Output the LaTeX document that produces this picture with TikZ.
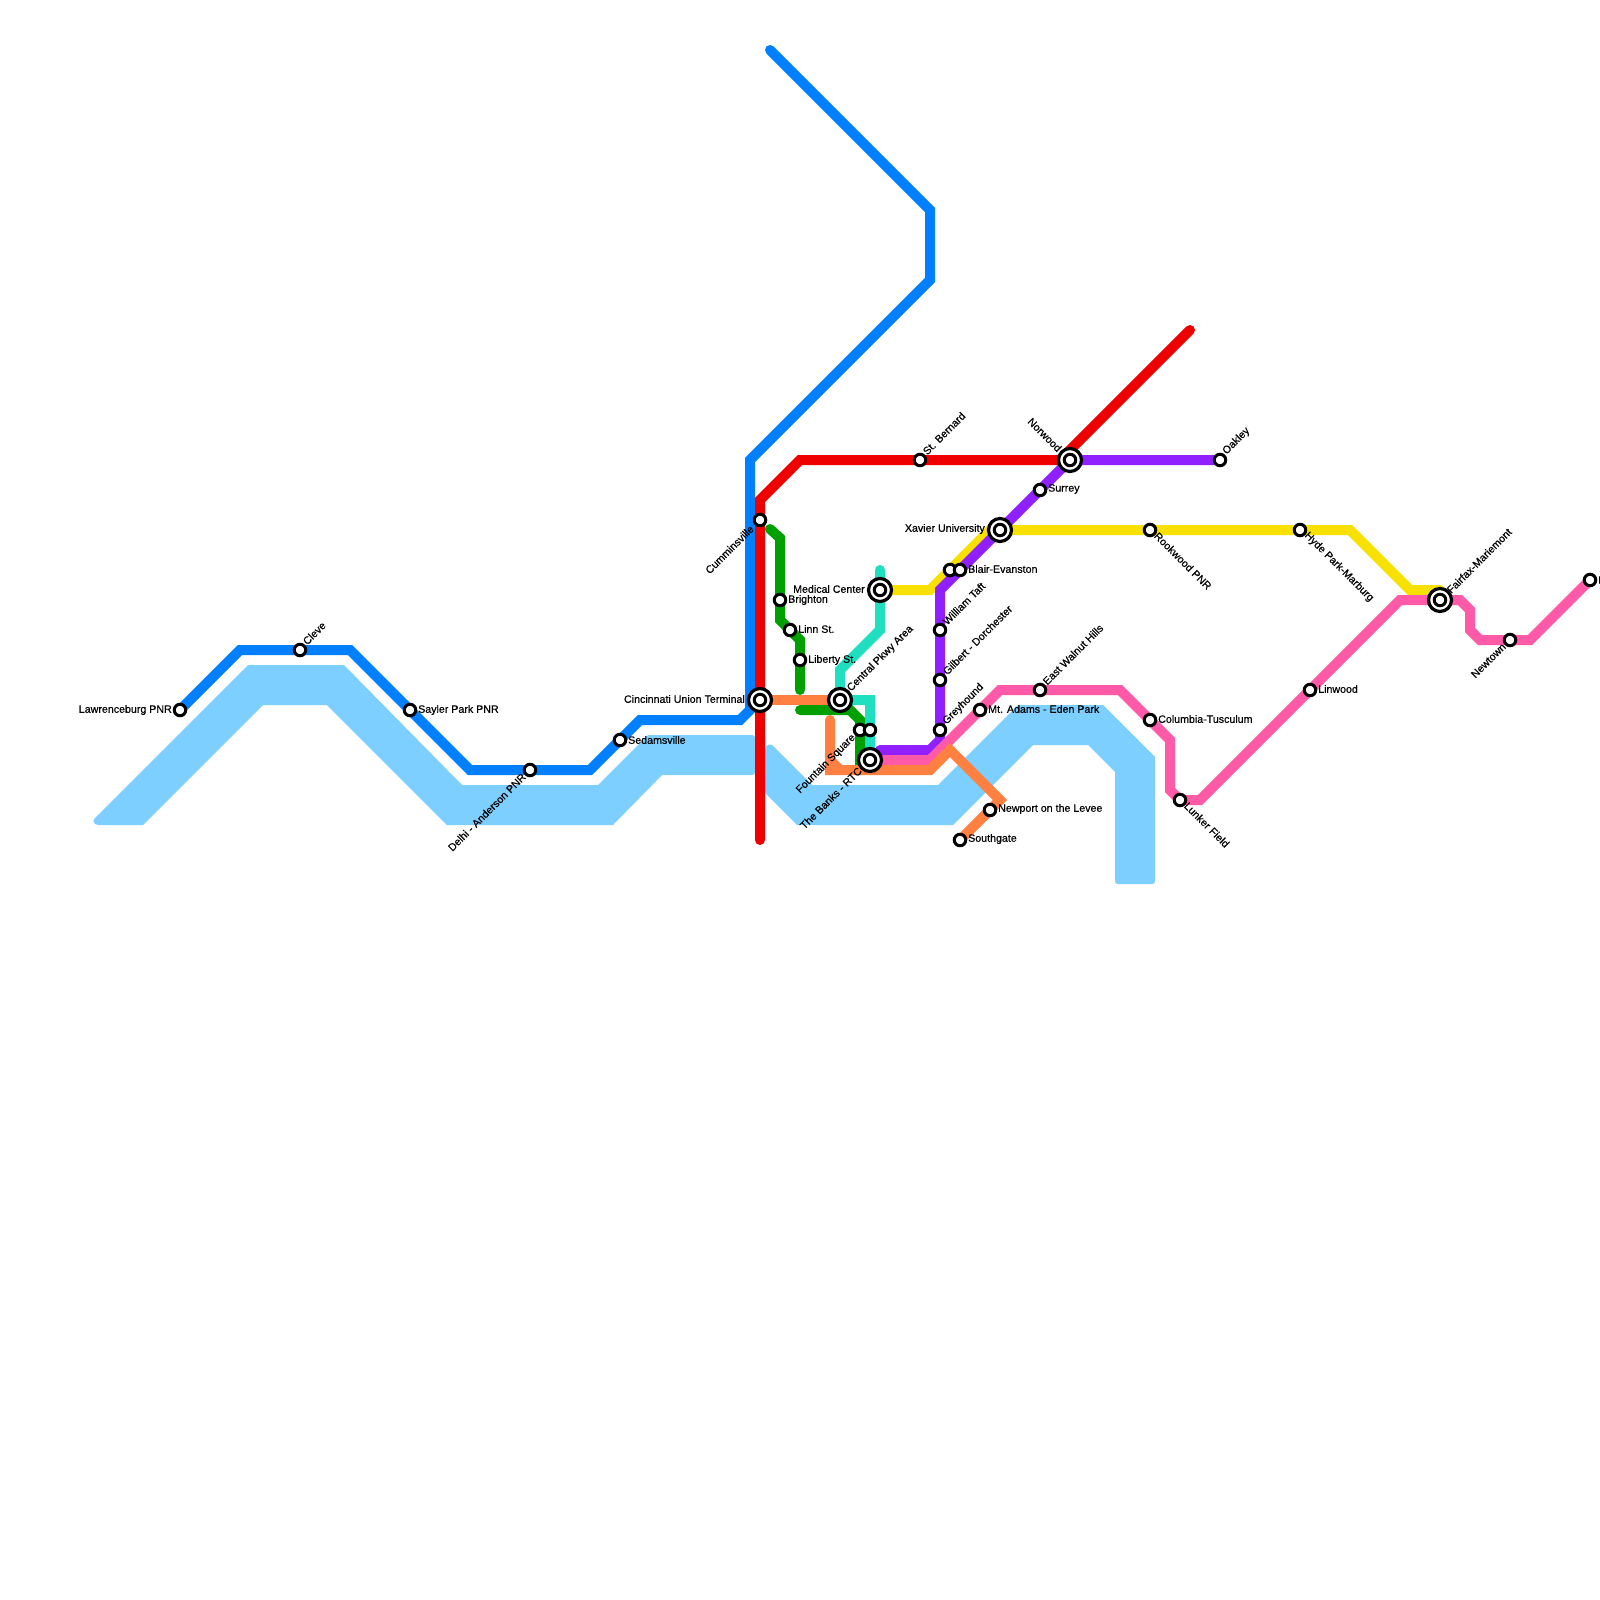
\documentclass[tikz,border=0pt]{standalone}
\usepackage{fontspec}
\setmainfont{Liberation Sans}
\newfontfamily\lblfont[FakeBold=0.5]{Liberation Sans}
\definecolor{cRiver}{HTML}{7DCFFF}
\definecolor{cBlue}{HTML}{0080FF}
\definecolor{cRed}{HTML}{EE0000}
\definecolor{cOrange}{HTML}{FF8040}
\definecolor{cGreen}{HTML}{00A000}
\definecolor{cTeal}{HTML}{20DFC0}
\definecolor{cYellow}{HTML}{F8E000}
\definecolor{cPurple}{HTML}{9020FF}
\definecolor{cPink}{HTML}{FF5AA8}
\tikzset{
  metro/.style={line width=10pt,line cap=round,line join=miter,miter limit=4},
  riverfill/.style={fill=cRiver,draw=none},
  stn/.style={circle,draw=black,fill=white,line width=3pt,minimum size=11.5pt,inner sep=0pt},
  ring/.style={circle,draw=black,fill=white,line width=3.2pt,minimum size=23pt,inner sep=0pt},
  lbl/.style={inner sep=0pt,font=\lblfont\fontsize{10.65}{12}\selectfont,text=black},
  lblR/.style={lbl,anchor=west},
  lblL/.style={lbl,anchor=east},
  lblUR/.style={lbl,anchor=west,rotate=45},
  lblDR/.style={lbl,anchor=west,rotate=-45},
  lblDL/.style={lbl,anchor=east,rotate=45},
  lblUL/.style={lbl,anchor=east,rotate=-45},
}
\begin{document}
\begin{tikzpicture}[x=1pt,y=-1pt]
\useasboundingbox (0,0) rectangle (1600,1600);
% station positions
\coordinate (Law) at (180,710);
\coordinate (Cle) at (300,650);
\coordinate (Say) at (410,710);
\coordinate (Del) at (530,770);
\coordinate (Sed) at (620,740);
\coordinate (Cin) at (760,700);
\coordinate (Cum) at (760,520);
\coordinate (Bri) at (780,600);
\coordinate (Lin) at (790,630);
\coordinate (Lib) at (800,660);
\coordinate (Cen) at (840,700);
\coordinate (Fou) at (860,730);
\coordinate (Fou2) at (870,730);
\coordinate (Ban) at (870,760);
\coordinate (Med) at (880,590);
\coordinate (Ber) at (920,460);
\coordinate (Taf) at (940,630);
\coordinate (Gil) at (940,680);
\coordinate (Gre) at (940,730);
\coordinate (Bl1) at (950,570);
\coordinate (Bl2) at (960,570);
\coordinate (Xav) at (1000,530);
\coordinate (Sur) at (1040,490);
\coordinate (Nor) at (1070,460);
\coordinate (Oak) at (1220,460);
\coordinate (Ada) at (980,710);
\coordinate (Eas) at (1040,690);
\coordinate (New) at (990,810);
\coordinate (Sou) at (960,840);
\coordinate (Col) at (1150,720);
\coordinate (Lun) at (1180,800);
\coordinate (Roo) at (1150,530);
\coordinate (Hyd) at (1300,530);
\coordinate (Lwd) at (1310,690);
\coordinate (Fai) at (1440,600);
\coordinate (Nwt) at (1510,640);
\coordinate (Mad) at (1590,580);
% free line ends
\coordinate (blueEnd) at (770,50);
\coordinate (redEnd) at (1190,330);
\coordinate (redStart) at (760,840);
\coordinate (tealTop) at (880,570);
\coordinate (greenTop) at (770,529);
\coordinate (greenMid) at (800,690);
\coordinate (greenLow) at (800,710);
\coordinate (orangeTop) at (830,720);
\coordinate (yellowEnd) at (1440,590);
% river
\path[riverfill] (248,665) -- (344,665) -- (462,785) -- (598,785) -- (648,735)
  -- (752,735) .. controls (754,735) and (755,736) .. (755,738) -- (755,772) .. controls (755,774) and (754,775) .. (752,775)
  -- (662,775) -- (613,825) -- (447,825)
  -- (327,705) -- (263,705) -- (143,825) -- (99,825) .. controls (94,825) and (92,821) .. (95,818) -- cycle;
\path[riverfill] (812,785) -- (938,785) -- (1018,705) -- (1103,705) -- (1155,757)
  -- (1155,881) .. controls (1155,883) and (1154,884) .. (1152,884) -- (1118,884) .. controls (1116,884) and (1115,883) .. (1115,881)
  -- (1115,772) -- (1088,745)
  -- (1033,745) -- (953,825) -- (797,825) -- (765,793) -- (765,750) .. controls (765,746) and (768,743.5) .. (772,745) -- cycle;
% lines
\draw[metro,cBlue] (Law) -- (240,650) -- (Cle) -- (350,650) -- (Say) -- (470,770) -- (Del) -- (590,770) -- (Sed) -- (640,720) -- (740,720) -- (750,710) -- (750,460) -- (930,280) -- (930,210) -- (blueEnd);
\draw[metro,cRed] (redStart) -- (Cum) -- (760,500) -- (800,460) -- (Ber) -- (1060,460) -- (redEnd);
\draw[metro,cOrange] (Cin) -- (Cen);
\draw[metro,cGreen] (greenTop) -- (780,538) -- (Bri) -- (780,620) -- (Lin) -- (800,640) -- (Lib) -- (greenMid);
\draw[metro,cTeal] (tealTop) -- (Med) -- (880,630) -- (840,670) -- (Cen) -- (870,700) -- (Fou2) -- (Ban);
\draw[metro,cGreen] (greenLow) -- (850,710) -- (860,720) -- (Fou) -- (860,760) -- (Ban);
\draw[metro,cYellow] (Med) -- (930,590) -- (990,530) -- (Xav) -- (Roo) -- (Hyd) -- (1350,530) -- (1410,590) -- (yellowEnd);
\draw[metro,cPurple] (Oak) -- (Nor) -- (Sur) -- (Xav) -- (Bl2) -- (940,590) -- (Taf) -- (Gil) -- (Gre) -- (940,740) -- (930,750) -- (880,750);
\draw[metro,cPink] (Ban) -- (930,760) -- (1000,690) -- (Eas) -- (1120,690) -- (Col) -- (1170,740) -- (1170,790) -- (Lun) -- (1200,800) -- (Lwd) -- (1400,600) -- (Fai) -- (1460,600) -- (1470,610) -- (1470,630) -- (1480,640) -- (Nwt) -- (1530,640) -- (Mad);
\draw[metro,cOrange] (830,760) -- (840,770);
\draw[metro,cOrange] (orangeTop) -- (830,770) -- (930,770) -- (950,750) -- (1000,800) -- (New) -- (Sou);
% stations
\foreach \s in {Law,Cle,Say,Del,Sed,Cum,Bri,Lin,Lib,Fou,Fou2,Ber,Taf,Gil,Gre,Bl1,Bl2,Sur,Oak,Ada,Eas,New,Sou,Col,Lun,Roo,Hyd,Lwd,Nwt,Mad}
  \node[stn] (n\s) at (\s) {};
\foreach \s in {Cin,Cen,Ban,Med,Xav,Nor,Fai}{
  \node[ring] (r\s) at (\s) {};
  \node[stn] (n\s) at (\s) {};
}
% labels
\node[lblL] (tLaw) at ([xshift=-8pt,yshift=0pt]Law) {Lawrenceburg PNR};
\node[lblUR] (tCle) at ([xshift=4.5pt,yshift=7pt]Cle) {Cleve};
\node[lblR] (tSay) at ([xshift=8pt,yshift=0pt]Say) {Sayler Park PNR};
\node[lblDL] (tDel) at ([xshift=-6pt,yshift=-5pt]Del) {Delhi - Anderson PNR};
\node[lblR] (tSed) at ([xshift=8pt,yshift=0pt]Sed) {Sedamsville};
\node[lblL] (tCin) at ([xshift=-15pt,yshift=1pt]Cin) {Cincinnati Union Terminal};
\node[lblDL] (tCum) at ([xshift=-8pt,yshift=-7pt]Cum) {Cumminsville};
\node[lblR] (tBri) at ([xshift=8pt,yshift=0pt]Bri) {Brighton};
\node[lblR] (tLin) at ([xshift=8pt,yshift=1pt]Lin) {Linn St.};
\node[lblR] (tLib) at ([xshift=8pt,yshift=0pt]Lib) {Liberty St.};
\node[lblUR] (tCen) at ([xshift=9pt,yshift=10pt]Cen) {Central Pkwy Area};
\node[lblDL] (tFou) at ([xshift=-6pt,yshift=-6pt]Fou) {Fountain Square};
\node[lblDL] (tBan) at ([xshift=-10pt,yshift=-9pt]Ban) {The Banks - RTC};
\node[lblL] (tMed) at ([xshift=-15pt,yshift=1pt]Med) {Medical Center};
\node[lblUR] (tBer) at ([xshift=4.5pt,yshift=7pt]Ber) {St. Bernard};
\node[lblUR] (tTaf) at ([xshift=4.5pt,yshift=7pt]Taf) {William Taft};
\node[lblUR] (tGil) at ([xshift=4.5pt,yshift=7pt]Gil) {Gilbert - Dorchester};
\node[lblUR] (tGre) at ([xshift=4.5pt,yshift=7pt]Gre) {Greyhound};
\node[lblR] (tBl) at ([xshift=8pt,yshift=1pt]Bl2) {Blair-Evanston};
\node[lblL] (tXav) at ([xshift=-15pt,yshift=1pt]Xav) {Xavier University};
\node[lblR] (tSur) at ([xshift=8pt,yshift=1pt]Sur) {Surrey};
\node[lblUL] (tNor) at ([xshift=-10pt,yshift=10pt]Nor) {Norwood};
\node[lblUR] (tOak) at ([xshift=4.5pt,yshift=7pt]Oak) {Oakley};
\node[lblR] (tAda) at ([xshift=8pt,yshift=1pt]Ada) {Mt. Adams - Eden Park};
\node[lblUR] (tEas) at ([xshift=4.5pt,yshift=7pt]Eas) {East Walnut Hills};
\node[lblR] (tNew) at ([xshift=8pt,yshift=1pt]New) {Newport on the Levee};
\node[lblR] (tSou) at ([xshift=8pt,yshift=1pt]Sou) {Southgate};
\node[lblR] (tCol) at ([xshift=8pt,yshift=1pt]Col) {Columbia-Tusculum};
\node[lblDR] (tLun) at ([xshift=6pt,yshift=-4pt]Lun) {Lunker Field};
\node[lblDR] (tRoo) at ([xshift=6pt,yshift=-4pt]Roo) {Rookwood PNR};
\node[lblDR] (tHyd) at ([xshift=6pt,yshift=-4pt]Hyd) {Hyde Park-Marburg};
\node[lblR] (tLwd) at ([xshift=8pt,yshift=1pt]Lwd) {Linwood};
\node[lblUR] (tFai) at ([xshift=8.5pt,yshift=8.5pt]Fai) {Fairfax-Mariemont};
\node[lblDL] (tNwt) at ([xshift=-6pt,yshift=-5pt]Nwt) {Newtown};
\node[lblR] (tMad) at ([xshift=8pt,yshift=0pt]Mad) {M};
\end{tikzpicture}
\end{document}
